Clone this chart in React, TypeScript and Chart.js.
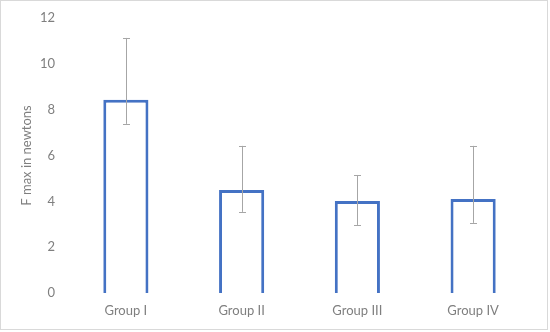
import React, { useEffect, useRef } from "react";
import { Chart, registerables } from "chart.js";

Chart.register(...registerables);

const categories = ["Group I", "Group II", "Group III", "Group IV"];
const meanValues = [8.43, 4.5, 4.02, 4.1];
const errorUpper = [11.13, 6.42, 5.15, 6.42];
const errorLower = [7.38, 3.54, 2.97, 3.06];
const yTicks = [0, 2, 4, 6, 8, 10, 12];

const FONT = "Lato, 'Open Sans', sans-serif";
const TEXT = "#7f7f7f";

const errorBarPlugin = {
  id: "errorBars",
  afterDatasetsDraw(chart: any) {
    const { ctx, scales } = chart;
    const meta = chart.getDatasetMeta(0);
    ctx.save();
    ctx.strokeStyle = "#a6a6a6";
    ctx.lineWidth = 1;
    meta.data.forEach((bar: any, i: number) => {
      const x = Math.round(bar.x) + 0.5;
      const yTop = scales.y.getPixelForValue(errorUpper[i]);
      const yBot = scales.y.getPixelForValue(errorLower[i]);
      ctx.beginPath();
      ctx.moveTo(x, yTop);
      ctx.lineTo(x, yBot);
      ctx.moveTo(x - 3.5, Math.round(yTop) + 0.5);
      ctx.lineTo(x + 3.5, Math.round(yTop) + 0.5);
      ctx.moveTo(x - 3.5, Math.round(yBot) + 0.5);
      ctx.lineTo(x + 3.5, Math.round(yBot) + 0.5);
      ctx.stroke();
    });
    ctx.restore();
  },
};

const frameBorderPlugin = {
  id: "frameBorder",
  afterDraw(chart: any) {
    const { ctx } = chart;
    ctx.save();
    ctx.strokeStyle = "#d9d9d9";
    ctx.lineWidth = 1;
    ctx.strokeRect(0.5, 0.5, 547, 329);
    ctx.restore();
  },
};

export default function App() {
  const canvasRef = useRef<HTMLCanvasElement | null>(null);

  useEffect(() => {
    if (!canvasRef.current) return;
    const chart = new Chart(canvasRef.current, {
      type: "bar",
      data: {
        labels: categories,
        datasets: [
          {
            data: meanValues,
            backgroundColor: "#ffffff",
            borderColor: "#4472c4",
            borderWidth: 3,
            categoryPercentage: 1,
            barPercentage: 0.39,
          },
        ],
      },
      options: {
        animation: false,
        responsive: false,
        maintainAspectRatio: false,
        layout: { padding: { top: 18, right: 19, bottom: 0, left: 16 } },
        plugins: {
          legend: { display: false },
          tooltip: { enabled: false },
        },
        scales: {
          x: {
            grid: { display: false, drawTicks: false },
            border: { display: false },
            ticks: { color: TEXT, font: { family: FONT, size: 13 }, padding: 10 },
            afterFit(scale: any) {
              scale.height = 39;
              scale.paddingLeft = 0;
              scale.paddingRight = 0;
            },
          },
          y: {
            min: 0,
            max: 12,
            afterBuildTicks(scale: any) {
              scale.ticks = yTicks.map((v) => ({ value: v }));
            },
            grid: { display: false, drawTicks: false },
            border: { display: false },
            ticks: { color: TEXT, font: { family: FONT, size: 13 }, padding: 13 },
            title: {
              display: true,
              text: "F max in newtons",
              color: TEXT,
              font: { family: FONT, size: 13 },
              padding: 3,
            },
            afterFit(scale: any) {
              scale.width = 52;
              scale.paddingTop = 0;
              scale.paddingBottom = 0;
            },
          },
        },
      },
      plugins: [errorBarPlugin, frameBorderPlugin],
    });
    return () => chart.destroy();
  }, []);

  return (
    <div style={{ position: "fixed", left: 0, top: 0, width: 550, height: 332, background: "#fff" }}>
      <canvas ref={canvasRef} width={550} height={332} style={{ width: 550, height: 332 }} />
    </div>
  );
}
